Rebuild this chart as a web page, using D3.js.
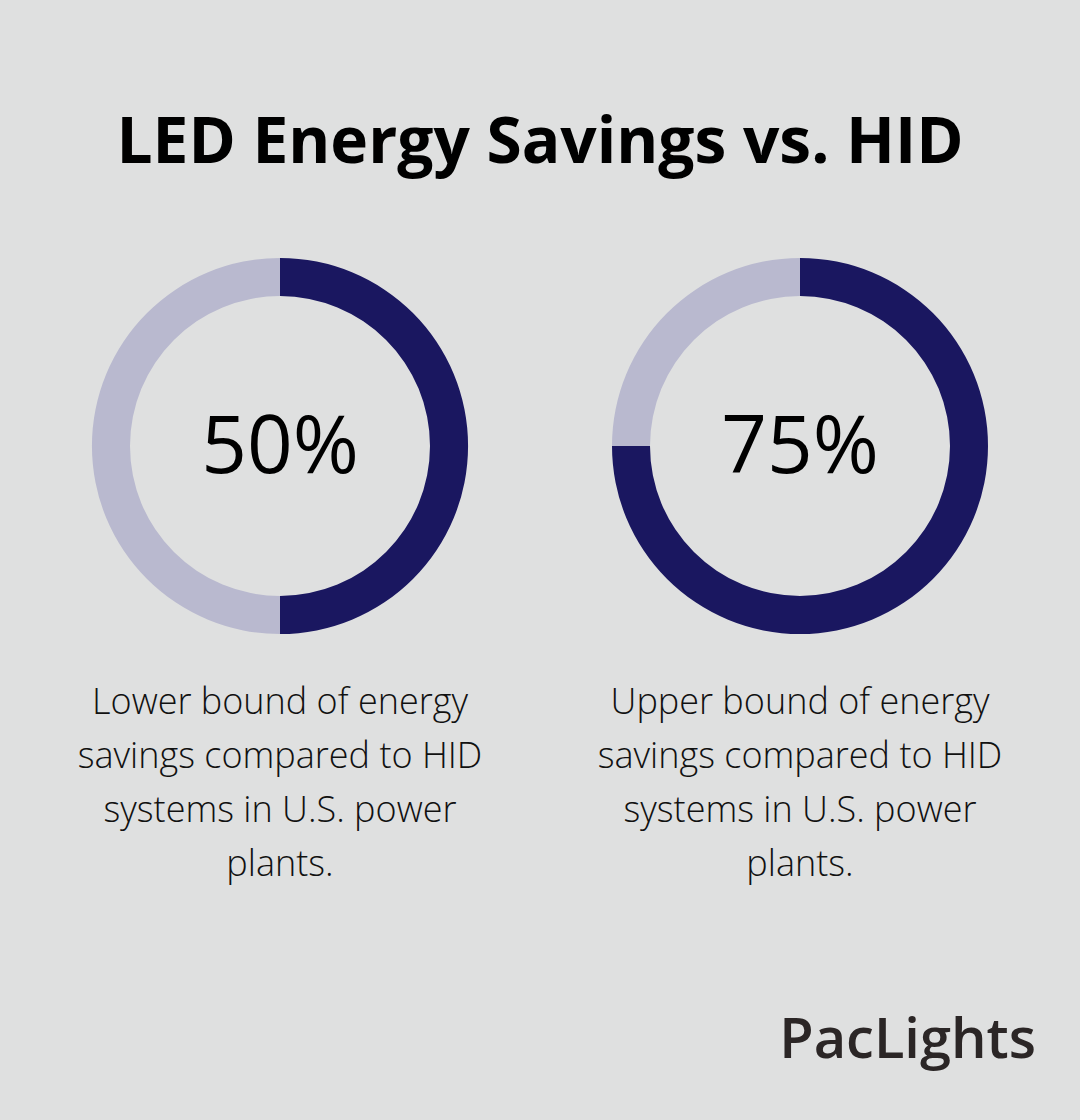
<!DOCTYPE html>
<html><head><meta charset="utf-8">
<script src="https://cdn.jsdelivr.net/npm/d3@7"></script>
<style>body{margin:0;background:#dfe0e0}</style></head>
<body><svg id="c" width="1080" height="1120"></svg>
<script>
const title = "LED Energy Savings vs. HID";
const labels = ["50%", "75%"];
const values = [50, 75];
const descriptions = [
  ["Lower bound of energy", "savings compared to HID", "systems in U.S. power", "plants."],
  ["Upper bound of energy", "savings compared to HID", "systems in U.S. power", "plants."]
];
const svg = d3.select("#c");
svg.append("rect").attr("width",1080).attr("height",1120).attr("fill","#dfe0e0");
svg.append("text").attr("x",540).attr("y",163).attr("text-anchor","middle")
  .attr("font-family","Open Sans").attr("font-weight",700).attr("font-size",64)
  .attr("fill","#000").text(title);
const x = d3.scalePoint().domain(d3.range(values.length)).range([280,800]);
const arc = d3.arc().innerRadius(150).outerRadius(188);
const pie = d3.pie().sort(null);
values.forEach((v,i)=>{
  const g = svg.append("g").attr("transform",`translate(${x(i)},446)`);
  g.selectAll("path").data(pie([v,100-v])).join("path").attr("d",arc)
    .attr("fill",(d,j)=>j===0?"#1a1760":"#b9b9cf");
  g.append("text").attr("y",27).attr("text-anchor","middle")
    .attr("font-family","Open Sans").attr("font-weight",500).attr("font-size",80)
    .attr("fill","#000").text(labels[i]);
  const t = svg.append("text").attr("text-anchor","middle")
    .attr("font-family","Open Sans").attr("font-weight",300).attr("font-size",36).attr("fill","#111");
  descriptions[i].forEach((l,k)=>t.append("tspan").attr("x",x(i)).attr("y",714+k*54).text(l));
});
svg.append("text").attr("x",1036).attr("y",1058).attr("text-anchor","end")
  .attr("font-family","Open Sans").attr("font-weight",600).attr("font-size",56)
  .attr("fill","#2b2626").text("PacLights");
</script></body></html>
